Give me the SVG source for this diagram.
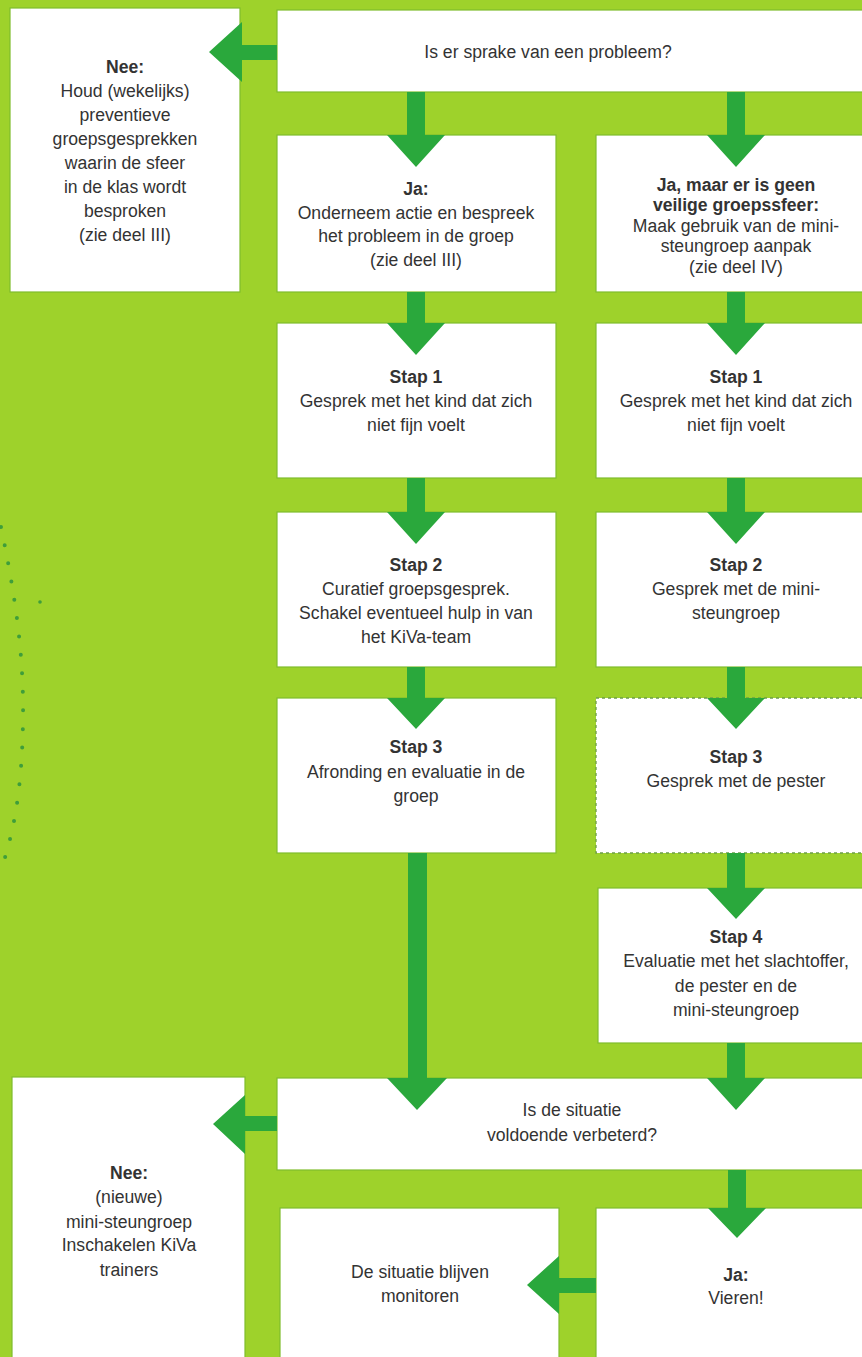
<svg xmlns="http://www.w3.org/2000/svg" width="862" height="1357" viewBox="0 0 862 1357">
<style>
.bg{fill:#9ed22b}
.box{fill:#ffffff;stroke:#7fbd2c;stroke-width:1.2}
.dash{fill:#ffffff;stroke:#6e9e48;stroke-width:1.3;stroke-dasharray:3 3}
.arr{fill:#2aa83c}
.t{font-family:"Liberation Sans",Arial,sans-serif;font-size:17.6px;fill:#333333;text-anchor:middle}
.b{font-weight:bold}
.dots{fill:none;stroke:#3f9e3a;stroke-width:4;stroke-linecap:round;stroke-dasharray:0 18.5}
</style>
<rect class="bg" x="0" y="0" width="862" height="1357"/>
<path class="dots" d="M1,527 C14,590 24,650 23,720 C22,790 14,830 2,867"/>
<circle cx="40" cy="602" r="1.8" fill="#3f9e3a"/>

<g id="n-question">
<rect class="box" x="277" y="10" width="600" height="82"/>
<text class="t" x="548" y="58">Is er sprake van een probleem?</text>
</g>
<g id="n-nee-top">
<rect class="box" x="10" y="8" width="230" height="284"/>
<text class="t" x="125" y="73"><tspan class="b">Nee:</tspan><tspan x="125" dy="24">Houd (wekelijks)</tspan><tspan x="125" dy="24">preventieve</tspan><tspan x="125" dy="24">groepsgesprekken</tspan><tspan x="125" dy="24">waarin de sfeer</tspan><tspan x="125" dy="24">in de klas wordt</tspan><tspan x="125" dy="24">besproken</tspan><tspan x="125" dy="24">(zie deel III)</tspan></text>
</g>
<g id="n-ja">
<rect class="box" x="277" y="135" width="279" height="157"/>
<text class="t" x="416" y="195"><tspan class="b">Ja:</tspan><tspan x="416" dy="23.5">Onderneem actie en bespreek</tspan><tspan x="416" dy="23.5">het probleem in de groep</tspan><tspan x="416" dy="23.5">(zie deel III)</tspan></text>
</g>
<g id="n-ja-maar">
<rect class="box" x="596" y="135" width="280" height="157"/>
<text class="t" x="736" y="191"><tspan class="b">Ja, maar er is geen</tspan><tspan class="b" x="736" dy="20">veilige groepssfeer:</tspan><tspan x="736" dy="20.5">Maak gebruik van de mini-</tspan><tspan x="736" dy="20.5">steungroep aanpak</tspan><tspan x="736" dy="20.5">(zie deel IV)</tspan></text>
</g>
<g id="n-stap1-l">
<rect class="box" x="277" y="323" width="279" height="155"/>
<text class="t" x="416" y="383"><tspan class="b">Stap 1</tspan><tspan x="416" dy="24">Gesprek met het kind dat zich</tspan><tspan x="416" dy="24">niet fijn voelt</tspan></text>
</g>
<g id="n-stap1-r">
<rect class="box" x="596" y="323" width="280" height="155"/>
<text class="t" x="736" y="383"><tspan class="b">Stap 1</tspan><tspan x="736" dy="24">Gesprek met het kind dat zich</tspan><tspan x="736" dy="24">niet fijn voelt</tspan></text>
</g>
<g id="n-stap2-l">
<rect class="box" x="277" y="512" width="279" height="155"/>
<text class="t" x="416" y="571"><tspan class="b">Stap 2</tspan><tspan x="416" dy="24">Curatief groepsgesprek.</tspan><tspan x="416" dy="24">Schakel eventueel hulp in van</tspan><tspan x="416" dy="24">het KiVa-team</tspan></text>
</g>
<g id="n-stap2-r">
<rect class="box" x="596" y="512" width="280" height="155"/>
<text class="t" x="736" y="571"><tspan class="b">Stap 2</tspan><tspan x="736" dy="24">Gesprek met de mini-</tspan><tspan x="736" dy="24">steungroep</tspan></text>
</g>
<g id="n-stap3-l">
<rect class="box" x="277" y="698" width="279" height="155"/>
<text class="t" x="416" y="753"><tspan class="b">Stap 3</tspan><tspan x="416" dy="24.5">Afronding en evaluatie in de</tspan><tspan x="416" dy="24.5">groep</tspan></text>
</g>
<g id="n-stap3-r">
<rect class="dash" x="596" y="698" width="280" height="155"/>
<text class="t" x="736" y="763"><tspan class="b">Stap 3</tspan><tspan x="736" dy="23.5">Gesprek met de pester</tspan></text>
</g>
<g id="n-stap4">
<rect class="box" x="598" y="888" width="278" height="155"/>
<text class="t" x="736" y="943"><tspan class="b">Stap 4</tspan><tspan x="736" dy="24">Evaluatie met het slachtoffer,</tspan><tspan x="736" dy="24.5">de pester en de</tspan><tspan x="736" dy="24.5">mini-steungroep</tspan></text>
</g>
<g id="n-verbeterd">
<rect class="box" x="277" y="1078" width="600" height="92"/>
<text class="t" x="572" y="1116"><tspan>Is de situatie</tspan><tspan x="572" dy="25">voldoende verbeterd?</tspan></text>
</g>
<g id="n-nee-bottom">
<rect class="box" x="12" y="1077" width="233" height="300"/>
<text class="t" x="129" y="1179"><tspan class="b">Nee:</tspan><tspan x="129" dy="24">(nieuwe)</tspan><tspan x="129" dy="24.5">mini-steungroep</tspan><tspan x="129" dy="23.5">Inschakelen KiVa</tspan><tspan x="129" dy="24.5">trainers</tspan></text>
</g>
<g id="n-monitoren">
<rect class="box" x="280" y="1208" width="279" height="170"/>
<text class="t" x="420" y="1278"><tspan>De situatie blijven</tspan><tspan x="420" dy="24">monitoren</tspan></text>
</g>
<g id="n-vieren">
<rect class="box" x="596" y="1208" width="280" height="170"/>
<text class="t" x="736" y="1281"><tspan class="b">Ja:</tspan><tspan x="736" dy="23">Vieren!</tspan></text>
</g>

<g id="connectors">
<path class="arr" d="M407,92 H425 V135 H445 L416,167 L387,135 H407 Z"/>
<path class="arr" d="M407,292 H425 V323 H445 L416,355 L387,323 H407 Z"/>
<path class="arr" d="M407,478 H425 V512 H445 L416,544 L387,512 H407 Z"/>
<path class="arr" d="M407,667 H425 V698 H445 L416,729 L387,698 H407 Z"/>
<path class="arr" d="M408,853 H427 V1078 H447 L417,1110 L387,1078 H408 Z"/>
<path class="arr" d="M727,92 H745 V135 H765 L736,167 L707,135 H727 Z"/>
<path class="arr" d="M727,292 H745 V323 H765 L736,355 L707,323 H727 Z"/>
<path class="arr" d="M727,478 H745 V512 H765 L736,544 L707,512 H727 Z"/>
<path class="arr" d="M727,667 H745 V698 H765 L736,729 L707,698 H727 Z"/>
<path class="arr" d="M727,853 H745 V888 H765 L736,919 L707,888 H727 Z"/>
<path class="arr" d="M727,1043 H745 V1078 H765 L736,1110 L707,1078 H727 Z"/>
<path class="arr" d="M728,1170 H746 V1208 H766 L737,1238 L708,1208 H728 Z"/>
<path class="arr" d="M277,45 V60 H242 V82 L209,52 L242,22 V45 Z"/>
<path class="arr" d="M277,1116 V1131 H245 V1154 L213,1124 L245,1095 V1116 Z"/>
<path class="arr" d="M596,1278 V1293 H559 V1314 L527,1285 L559,1256 V1278 Z"/>
</g>
</svg>
